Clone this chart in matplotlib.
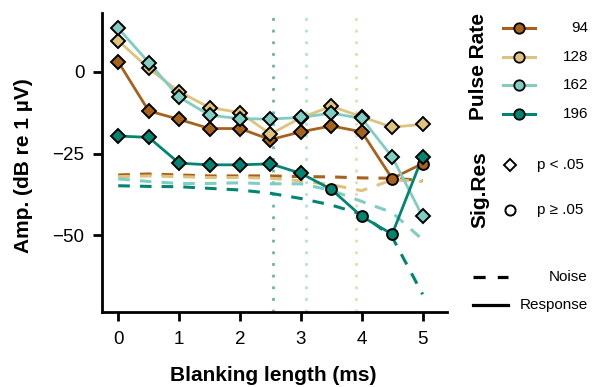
import matplotlib
matplotlib.use("Agg")
import matplotlib.pyplot as plt

plt.rcParams['font.family'] = ['Liberation Sans', 'DejaVu Sans']

# blanking lengths (ms)
blanking = [0, 0.5, 1, 1.5, 2, 2.5, 3, 3.5, 4, 4.5, 5]

rates = [94, 128, 162, 196]
colors = ['#a6611a', '#dfc27d', '#80cdc1', '#018571']

# response amplitude (dB re 1 uV)
resp94 = [3.1, -11.9, -14.5, -17.3, -17.3, -20.7, -18.3, -16.5, -18.3, -32.6, -28.0]
resp128 = [9.6, 1.1, -6.0, -10.9, -12.4, -19.0, -14.0, -10.5, -13.7, -16.9, -16.0]
resp162 = [13.4, 2.9, -7.7, -13.2, -14.3, -14.4, -13.9, -12.6, -14.2, -26.0, -44.2]
resp196 = [-19.6, -20.0, -27.9, -28.4, -28.4, -28.1, -31.0, -35.9, -44.2, -49.6, -25.9]

# noise floor
noise94 = [-31.5, -31.2, -31.5, -31.8, -31.8, -31.8, -32.0, -32.1, -32.4, -32.5, -33.2]
noise128 = [-32.0, -31.8, -32.0, -32.3, -32.3, -32.5, -33.3, -34.5, -36.3, -33.0, -33.5]
noise162 = [-32.7, -33.5, -34.1, -34.1, -33.9, -34.2, -34.2, -36.2, -39.6, -43.0, -51.3]
noise196 = [-34.8, -35.0, -35.1, -35.6, -36.1, -37.1, -38.7, -40.7, -43.5, -50.5, -68.0]

# significant response (1 -> p < .05)
sig94 = [1, 1, 1, 1, 1, 1, 1, 1, 1, 0, 0]
sig128 = [1, 1, 1, 1, 1, 1, 1, 1, 1, 1, 1]
sig162 = [1, 1, 1, 1, 1, 1, 1, 1, 1, 1, 1]
sig196 = [1, 1, 1, 1, 1, 1, 1, 0, 0, 0, 1]

# blanking length where response meets noise (dotted lines)
cross_rates = [196, 162, 128]
cross_x = [2.55, 3.09, 3.91]

responses = [resp94, resp128, resp162, resp196]
noises = [noise94, noise128, noise162, noise196]
sigs = [sig94, sig128, sig162, sig196]

fig = plt.figure(figsize=(5.92, 3.87), dpi=100)
ax = fig.add_axes([0.172, 0.194, 0.583, 0.772])

for r, xc in zip(cross_rates, cross_x):
    c = colors[rates.index(r)]
    ax.axvline(xc, color=c, lw=2, ls=(0, (1, 3.2)), alpha=0.6, zorder=1)

for c, n in zip(colors, noises):
    ax.plot(blanking, n, color=c, lw=2.2, ls=(0, (3.8, 3.3)), zorder=2)

for c, resp, sig in zip(colors, responses, sigs):
    ax.plot(blanking, resp, color=c, lw=2, zorder=3)
    xd = [x for x, s in zip(blanking, sig) if s]
    yd = [y for y, s in zip(resp, sig) if s]
    xo = [x for x, s in zip(blanking, sig) if not s]
    yo = [y for y, s in zip(resp, sig) if not s]
    ax.plot(xd, yd, ls='none', marker='D', ms=6.8, mfc=c, mec='black', mew=1.4, zorder=4)
    ax.plot(xo, yo, ls='none', marker='o', ms=7.8, mfc=c, mec='black', mew=1.4, zorder=4)

ax.set_xlim(-0.27, 5.4)
ax.set_ylim(-73.4, 18)
ax.set_xticks([0, 1, 2, 3, 4, 5])
ax.set_yticks([0, -25, -50])
ax.spines['top'].set_visible(False)
ax.spines['right'].set_visible(False)
for s in ['left', 'bottom']:
    ax.spines[s].set_linewidth(2)
ax.tick_params(width=2, length=6.5, labelsize=13.5, color='black')
ax.tick_params(axis='x', pad=7)
ax.tick_params(axis='y', pad=6)

ax.set_xlabel('Blanking length (ms)', fontsize=15, fontweight='bold')
ax.set_ylabel('Amp. (dB re 1 µV)', fontsize=15, fontweight='bold')
ax.xaxis.set_label_coords(0.496, -0.18)
ax.yaxis.set_label_coords(-0.2, 0.49)

# legend drawn in pixel coordinates
lg = fig.add_axes([0, 0, 1, 1], zorder=5)
lg.set_xlim(0, 592)
lg.set_ylim(387, 0)
lg.axis('off')

lg.text(478, 67, 'Pulse Rate', rotation=90, fontsize=15, fontweight='bold',
        ha='center', va='center')
for i, (r, c) in enumerate(zip(rates, colors)):
    yy = 28 + i * 28.7
    lg.plot([503, 535], [yy, yy], color=c, lw=2.2)
    lg.plot([519], [yy], marker='o', ms=7.5, mfc=c, mec='black', mew=1.3)
    lg.text(588, yy, str(r), fontsize=11, ha='right', va='center')

lg.text(480, 190, 'Sig.Res', rotation=90, fontsize=15, fontweight='bold',
        ha='center', va='center')
lg.plot([510], [165], marker='D', ms=6.5, mfc='white', mec='black', mew=1.4)
lg.text(537, 165, 'p < .05', fontsize=11, ha='left', va='center')
lg.plot([510], [210], marker='o', ms=7.3, mfc='white', mec='black', mew=1.4)
lg.text(537, 210, 'p ≥ .05', fontsize=11, ha='left', va='center')

lg.plot([473, 508], [277, 277], color='black', lw=2.3, ls=(0, (3.8, 3.8)))
lg.text(588, 277, 'Noise', fontsize=11, ha='right', va='center')
lg.plot([473, 508], [305, 305], color='black', lw=2.3)
lg.text(588, 305, 'Response', fontsize=11, ha='right', va='center')

fig.savefig('out.png', dpi=100)
